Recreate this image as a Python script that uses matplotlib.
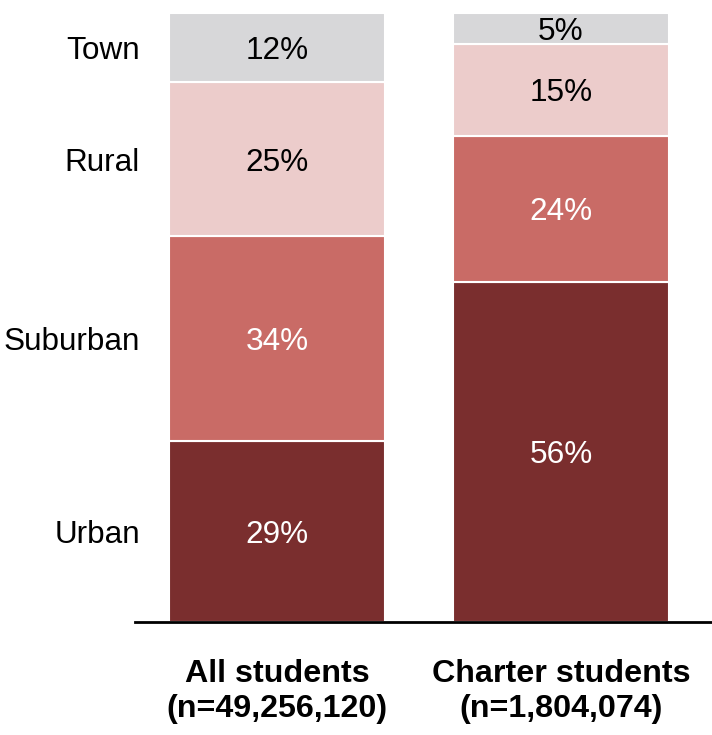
import matplotlib
matplotlib.use("Agg")
import matplotlib.pyplot as plt
import numpy as np

plt.rcParams['font.family'] = ['Liberation Sans', 'DejaVu Sans']

groups = ["All students\n(n=49,256,120)", "Charter students\n(n=1,804,074)"]
locales = ["Urban", "Suburban", "Rural", "Town"]
# segment heights (unrounded), labels as printed
shares = {
    "Urban": [29.6, 55.8],
    "Suburban": [33.7, 24.0],
    "Rural": [25.3, 15.1],
    "Town": [11.4, 5.1],
}
labels = {
    "Urban": [29, 56],
    "Suburban": [34, 24],
    "Rural": [25, 15],
    "Town": [12, 5],
}
colors = {
    "Urban": "#7A2E2E",
    "Suburban": "#C96B66",
    "Rural": "#ECCCCB",
    "Town": "#D7D7D9",
}
text_colors = {"Urban": "white", "Suburban": "white", "Rural": "black", "Town": "black"}

fig = plt.figure(figsize=(7.12, 7.35), dpi=100)
ax = fig.add_axes([135 / 712, 113.5 / 735, 577 / 712, 608.5 / 735])

x = np.arange(len(groups))
bottom = np.zeros(len(groups))
for loc in locales:
    vals = np.array(shares[loc])
    ax.bar(x, vals, width=0.76, bottom=bottom, color=colors[loc],
           edgecolor="white", linewidth=1.5)
    for xi, v, b, lab in zip(x, vals, bottom, labels[loc]):
        ax.text(xi, b + v / 2, f"{lab}%", ha="center", va="center_baseline",
                fontsize=22.7, color=text_colors[loc])
    # category label next to the first bar
    ax.text(-0.482, bottom[0] + vals[0] / 2, loc, ha="right", va="center_baseline",
            fontsize=22.7, color="black", clip_on=False)
    bottom += vals

ax.set_xlim(-0.5, 1.532)
ax.set_ylim(0, 100)
for s in ["top", "right", "left"]:
    ax.spines[s].set_visible(False)
ax.spines["bottom"].set_linewidth(2)
ax.set_yticks([])
ax.set_xticks(x)
ax.set_xticklabels(groups, fontsize=23.2, fontweight="bold", linespacing=1.2)
ax.tick_params(axis="x", length=0, pad=27)

fig.savefig("out.png", dpi=100)
